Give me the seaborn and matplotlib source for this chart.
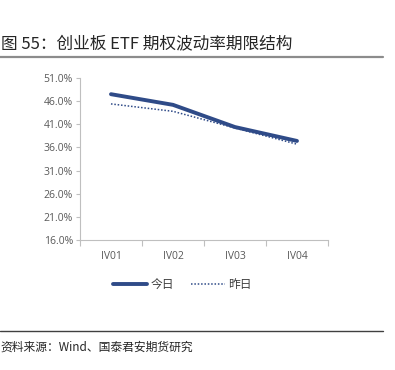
import pandas as pd
import numpy as np
import matplotlib
matplotlib.use("Agg")
import matplotlib.pyplot as plt
import seaborn as sns
from matplotlib.ticker import FuncFormatter, FixedLocator
from matplotlib.lines import Line2D

# Data
tenors = ['IV01', 'IV02', 'IV03', 'IV04']
today = [47.5, 45.2, 40.4, 37.4]
yesterday = [45.4, 43.8, 40.2, 36.7]

df = pd.DataFrame({'tenor': tenors * 2,
                   'iv': today + yesterday,
                   'day': ['今日'] * 4 + ['昨日'] * 4})

sns.set_style("white")
plt.rcParams['font.family'] = ['Noto Sans CJK SC', 'DejaVu Sans']

fig = plt.figure(figsize=(3.95, 3.7), dpi=100)
ax = fig.add_axes([0.2025, 0.3514, 0.6278, 0.4378])

blue = '#2F4B88'
sns.lineplot(data=df, x='tenor', y='iv', hue='day', style='day',
             palette={'今日': blue, '昨日': blue},
             dashes={'今日': '', '昨日': (1, 1.2)},
             size='day', sizes={'今日': 2.8, '昨日': 1.1},
             ax=ax, legend=False, sort=False)

ax.set_xlim(-0.5, 3.5)
ax.set_ylim(16, 51)
ax.set_yticks(np.arange(16, 52, 5))
ax.yaxis.set_major_formatter(FuncFormatter(lambda v, p: f'{v:.1f}%'))
ax.set_xticks(range(4))
ax.set_xticklabels(tenors)
ax.xaxis.set_minor_locator(FixedLocator([-0.5, 0.5, 1.5, 2.5, 3.5]))
ax.set_xlabel('')
ax.set_ylabel('')

for s in ['top', 'right']:
    ax.spines[s].set_visible(False)
for s in ['left', 'bottom']:
    ax.spines[s].set_color('#BFBFBF')
    ax.spines[s].set_linewidth(0.8)

ax.tick_params(axis='y', which='major', length=3, width=0.8, color='#BFBFBF',
               labelsize=7.5, labelcolor='#595959', pad=2, left=True)
ax.tick_params(axis='x', which='major', length=0, labelsize=7.5,
               labelcolor='#595959', pad=8)
ax.tick_params(axis='x', which='minor', length=4, width=0.8,
               color='#BFBFBF', bottom=True)
for lab in ax.get_xticklabels() + ax.get_yticklabels():
    lab.set_fontfamily(['Open Sans', 'DejaVu Sans'])

# legend
handles = [Line2D([], [], color=blue, lw=2.8),
           Line2D([], [], color=blue, lw=1.1, ls=(0, (1, 1.2)))]
fig.legend(handles, ['今日', '昨日'], loc='center', bbox_to_anchor=(0.462, 0.23),
           ncol=2, frameon=False, fontsize=8.5, handlelength=2.9,
           handletextpad=0.3, columnspacing=1.4, labelcolor='#404040')

# title, rules, source
fig.text(0.002, 0.883, '图 55：创业板 ETF 期权波动率期限结构', fontsize=12,
         color='#262626', va='center', ha='left')
fig.add_artist(Line2D([0, 0.97], [0.846, 0.846], color='#8C8C8C', lw=1.6,
                      transform=fig.transFigure))
fig.add_artist(Line2D([0, 0.97], [0.105, 0.105], color='#404040', lw=1.0,
                      transform=fig.transFigure))
fig.text(0.002, 0.062, '资料来源：Wind、国泰君安期货研究', fontsize=8.5,
         color='#262626', va='center', ha='left')

fig.savefig('out.png', dpi=100)
